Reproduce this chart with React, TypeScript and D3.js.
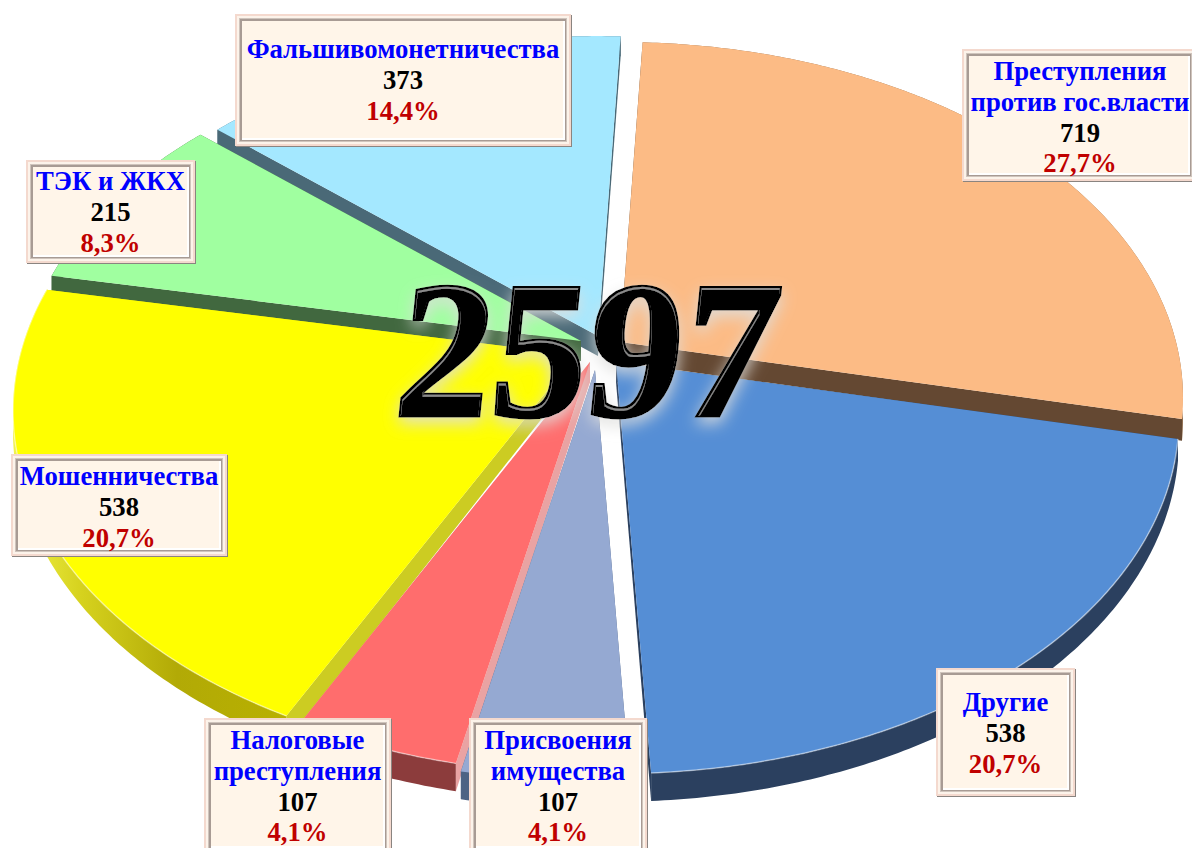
import * as d3 from "d3";

const WIDTH = 1192;
const HEIGHT = 848;

// data, clockwise from the top
const categories = [
  "Преступления против гос.власти",
  "Другие",
  "Присвоения имущества",
  "Налоговые преступления",
  "Мошенничества",
  "ТЭК и ЖКХ",
  "Фальшивомонетничества",
];
const values = [719, 538, 107, 107, 538, 215, 373];
const percents = ["27,7%", "20,7%", "4,1%", "4,1%", "20,7%", "8,3%", "14,4%"];
const total = "2597";

const labelLines = [
  ["Преступления", "против гос.власти"],
  ["Другие"],
  ["Присвоения", "имущества"],
  ["Налоговые", "преступления"],
  ["Мошенничества"],
  ["ТЭК и ЖКХ"],
  ["Фальшивомонетничества"],
];

// styles and layout, same order as categories
const topColors = ["#FCBB85", "#558ED5", "#95A9D2", "#FF6D6D", "#FFFF00", "#A0FFA0", "#A4E8FF"];
const arcWalls = ["#8d6b4c", "#2B405F", "#4c6384", "#8C3C3C", "url(#yellowWall)", "#41683f", "#4a6a7a"];
const cutWalls = ["#644832", "#2B405F", "#4c6384", "#E9A3A3", "#CCCC22", "#41683F", "#4A6977"];
const apexes = [
  [620, 342],
  [616, 362],
  [595, 370],
  [590, 362],
  [576, 355],
  [581, 341],
  [598, 336],
];
const boxes = [
  { x: 962, y: 49, w: 234, h: 132, base: 80 },
  { x: 936, y: 668, w: 139, h: 128, base: 711 },
  { x: 469, y: 718, w: 178, h: 136, base: 749 },
  { x: 204, y: 718, w: 187, h: 136, base: 749 },
  { x: 11, y: 454, w: 216, h: 102, base: 485 },
  { x: 26, y: 160, w: 169, h: 103, base: 190 },
  { x: 235, y: 14, w: 336, h: 132, base: 58 },
];

// the pie lies in perspective: near side is bigger, so apex is not the ellipse centre
const R = 556;
const H = 347;
const P = 0.157;

const wallDepth = (v: number) => 20 + 8 * Math.max(v, 0);

const project = (angle: number, apex: number[], drop: boolean) => {
  const u = Math.sin(angle);
  const v = -Math.cos(angle);
  const w = 1 - P * v;
  const y = apex[1] + (H * v) / w;
  return [apex[0] + (R * u) / w, drop ? y + wallDepth(v) : y] as [number, number];
};

const pie = d3
  .pie<number>()
  .sort(null)
  .startAngle((2.7 * Math.PI) / 180)
  .endAngle((362.7 * Math.PI) / 180);
const slices = pie(values);

const line = d3.line();

const arcPoints = (a0: number, a1: number, apex: number[], drop = false) => {
  const n = Math.ceil((a1 - a0) / 0.01);
  return d3.range(n + 1).map((i) => project(a0 + ((a1 - a0) * i) / n, apex, drop));
};

const topPath = (i: number) => {
  const s = slices[i];
  const apex = apexes[i] as [number, number];
  return line([apex, ...arcPoints(s.startAngle, s.endAngle, apex)]) + "Z";
};
const arcWallPath = (i: number) => {
  const s = slices[i];
  const upper = arcPoints(s.startAngle, s.endAngle, apexes[i]);
  const lower = arcPoints(s.startAngle, s.endAngle, apexes[i], true).reverse();
  return line([...upper, ...lower]) + "Z";
};
const cutWallPath = (i: number, angle: number) => {
  const apex = apexes[i] as [number, number];
  const low: [number, number] = [apex[0], apex[1] + wallDepth(0)];
  return (
    line([apex, project(angle, apex, false), project(angle, apex, true), low]) + "Z"
  );
};

const Box = ({ i }: { i: number }) => {
  const b = boxes[i];
  const lines = [...labelLines[i], String(values[i]), percents[i]];
  const n = labelLines[i].length;
  return (
    <g>
      <rect x={b.x + 1} y={b.y + 1} width={b.w} height={b.h} fill="#8a8480" />
      <rect x={b.x} y={b.y} width={b.w} height={b.h} fill="#F4D9CE" />
      <rect x={b.x + 2} y={b.y + 2} width={b.w - 4} height={b.h - 4} fill="#FCF3EA" />
      <rect x={b.x + 4} y={b.y + 4} width={b.w - 8} height={b.h - 8} fill="#CFC4BC" />
      <rect x={b.x + 5} y={b.y + 5} width={b.w - 10} height={b.h - 10} fill="#A89B94" />
      <rect x={b.x + 7} y={b.y + 7} width={b.w - 13} height={b.h - 13} fill="#FFFFFF" />
      <rect x={b.x + 7} y={b.y + 7} width={b.w - 15} height={b.h - 15} fill="#FFF5E9" />
      <text
        textAnchor="middle"
        fontFamily="'Liberation Serif', serif"
        fontWeight="bold"
        fontSize={26.7}
      >
        {lines.map((t, k) => (
          <tspan
            key={k}
            x={b.x + b.w / 2 + (i === 0 ? 1 : 0)}
            y={b.base + k * 30.8}
            fill={k < n ? "#0000FF" : k === n ? "#000000" : "#C00000"}
          >
            {t}
          </tspan>
        ))}
      </text>
    </g>
  );
};

export default function App() {
  // back slices first so front walls sit over them
  const order = [6, 5, 0, 1, 4, 3, 2];
  return (
    <svg
      width={WIDTH}
      height={HEIGHT}
      style={{ position: "absolute", left: 0, top: 0, display: "block", background: "#fff" }}
    >
      <title>{categories.join(", ")}</title>
      <defs>
        <linearGradient id="yellowWall" x1="0" x2="1" y1="0" y2="0">
          <stop offset="0" stopColor="#F2F24A" />
          <stop offset="0.25" stopColor="#D6D21E" />
          <stop offset="0.6" stopColor="#B2AA06" />
          <stop offset="1" stopColor="#B8B000" />
        </linearGradient>
        <filter id="glow" x="-20%" y="-30%" width="140%" height="160%">
          <feGaussianBlur in="SourceAlpha" stdDeviation="8" result="blur" />
          <feOffset in="blur" dy="6" result="off" />
          <feFlood floodColor="#DEDEDC" floodOpacity="0.9" />
          <feComposite in2="off" operator="in" result="halo" />
          <feMorphology in="SourceAlpha" operator="erode" radius="2" result="inner" />
          <feOffset in="inner" dy="1.5" result="innerOff" />
          <feComposite in="inner" in2="innerOff" operator="out" result="rim" />
          <feFlood floodColor="#8A8A8A" />
          <feComposite in2="rim" operator="in" result="rimFill" />
          <feMerge>
            <feMergeNode in="halo" />
            <feMergeNode in="SourceGraphic" />
            <feMergeNode in="rimFill" />
          </feMerge>
        </filter>
      </defs>

      {order.map((i) => (
        <g key={i}>
          <path d={arcWallPath(i)} fill={arcWalls[i]} />
          <path d={cutWallPath(i, slices[i].startAngle)} fill={cutWalls[i]} />
          <path d={cutWallPath(i, slices[i].endAngle)} fill={cutWalls[i]} />
        </g>
      ))}
      {order.map((i) => (
        <path key={i} d={topPath(i)} fill={topColors[i]} />
      ))}
      {[1, 3, 4].map((i) => (
        <path
          key={i}
          d={line(arcPoints(slices[i].startAngle, slices[i].endAngle, apexes[i])) as string}
          fill="none"
          stroke="#fff"
          strokeOpacity={0.45}
          strokeWidth={1.5}
        />
      ))}

      <g filter="url(#glow)">
        <text
          transform="translate(582,416) scale(0.97,1) skewX(-6)"
          textAnchor="middle"
          fontFamily="'Liberation Serif', serif"
          fontWeight="bold"
          fontSize={196}
          fill="#000"
          stroke="#000"
          strokeWidth={3}
        >
          {total}
        </text>
      </g>

      {order.map((i) => (
        <Box key={i} i={i} />
      ))}
    </svg>
  );
}
